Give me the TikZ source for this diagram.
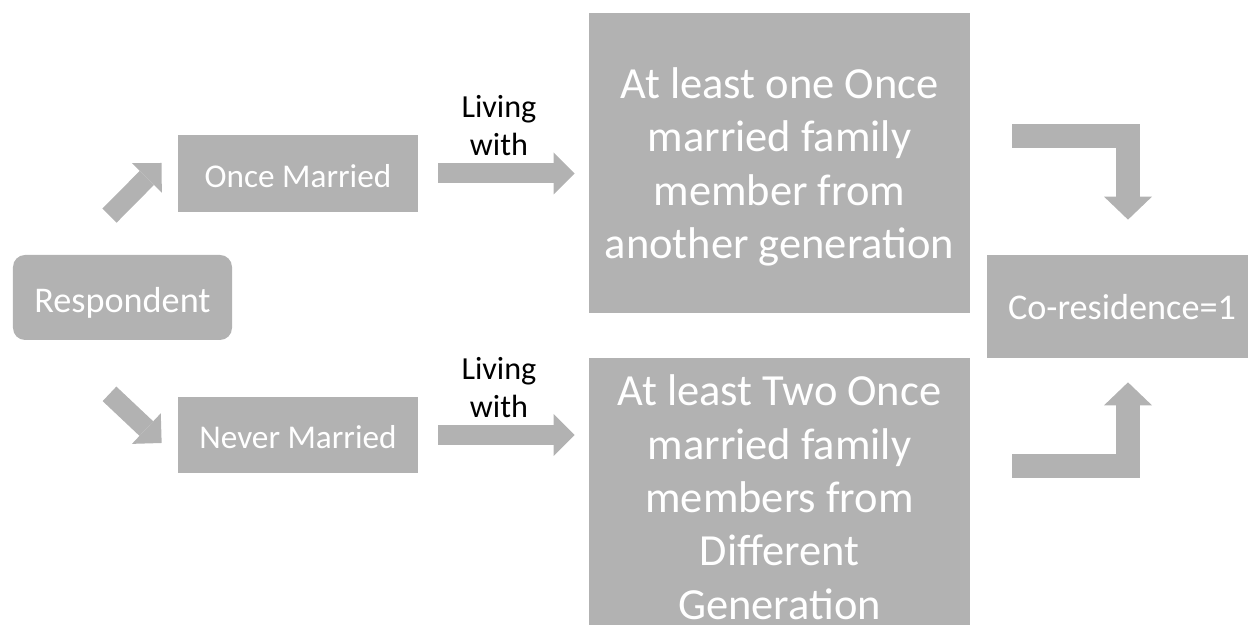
\documentclass[tikz,border=0pt]{standalone}
\usepackage{fontspec}
\setmainfont{Carlito}
\usetikzlibrary{arrows.meta,positioning,calc}
\definecolor{boxgrey}{HTML}{B2B2B2}
\tikzset{
  fillbox/.style = {fill=boxgrey, text=white, inner sep=2pt, align=center},
  box/.style     = {fillbox, text height=15.5pt, text depth=0pt,
                    font=\fontsize{18.9}{22}\selectfont},
  bigbox/.style  = {fillbox, text depth=0pt, minimum width=7.62cm, minimum height=6cm,
                    font=\fontsize{25.3}{30.4}\selectfont},
  sig/.style     = {draw=boxgrey, line width=4mm,
                    -{Triangle[length=4.2mm, width=8.4mm, line width=0pt]}},
  bentsig/.style = {draw=boxgrey, line width=4.8mm, line join=miter,
                    -{Triangle[length=4.6mm, width=9.6mm, line width=0pt]}},
  lbl/.style     = {text=black, align=center, inner sep=0pt,
                    font=\fontsize{18.3}{21.5}\selectfont},
}

\begin{document}
\begin{tikzpicture}[x=1cm,y=1cm]
  \useasboundingbox (0,0) rectangle (24.96,12.5);
  \clip (0,0) rectangle (24.96,12.5);
  % boxes
  \node[box, rounded corners=2.4mm, minimum width=4.38cm, minimum height=1.7cm, text height=17.5pt,
        font=\fontsize{20.6}{24}\selectfont] (resp) at (2.45,6.55) {Respondent};
  \node[box, minimum width=4.8cm, minimum height=1.54cm] (once) at (5.96,9.03) {Once Married};
  \node[box, minimum width=4.8cm, minimum height=1.52cm] (never) at (5.96,3.8) {Never Married};
  \node[bigbox] (big1) at (15.59,9.24)
    {At least one Once\\married family\\member from\\another generation};
  \node[bigbox, minimum height=5.56cm] (big2) at (15.59,2.56)
    {At least Two Once\\married family\\members from\\Different\\Generation};
  \node[box, minimum width=5.4cm, minimum height=2.06cm, text height=15.2pt,
        font=\fontsize{20.6}{24}\selectfont] (cores) at (22.44,6.37) {Co-residence=1};
  % respondent split
  \draw[sig] ($(resp.north)+(-0.26,0.78)$) -- ($(once.west)+(-0.32,0.21)$);
  \draw[sig] ($(resp.south)+(-0.26,-1.07)$) -- ($(never.west)+(-0.32,-0.16)$);
  % living with
  \draw[sig] ([xshift=4mm]once.east) -- ([xshift=-2.8mm]once.east -| big1.west)
    node[lbl, midway, above=1.5mm, xshift=-1.5mm] (liv1) {Living\\with};
  \draw[sig] ([xshift=4mm]never.east) -- ([xshift=-2.8mm]never.east -| big2.west)
    node[lbl, midway, above=1.5mm, xshift=-1.5mm] (liv2) {Living\\with};
  % into co-residence
  \draw[bentsig] ($(big1.east)+(0.84,0.54)$) -| ($(cores.north)+(0.12,0.7)$);
  \draw[bentsig] ($(big2.north east)+(0.84,-2.16)$) -| ($(cores.south)+(0.12,-0.48)$);
\end{tikzpicture}
\end{document}
